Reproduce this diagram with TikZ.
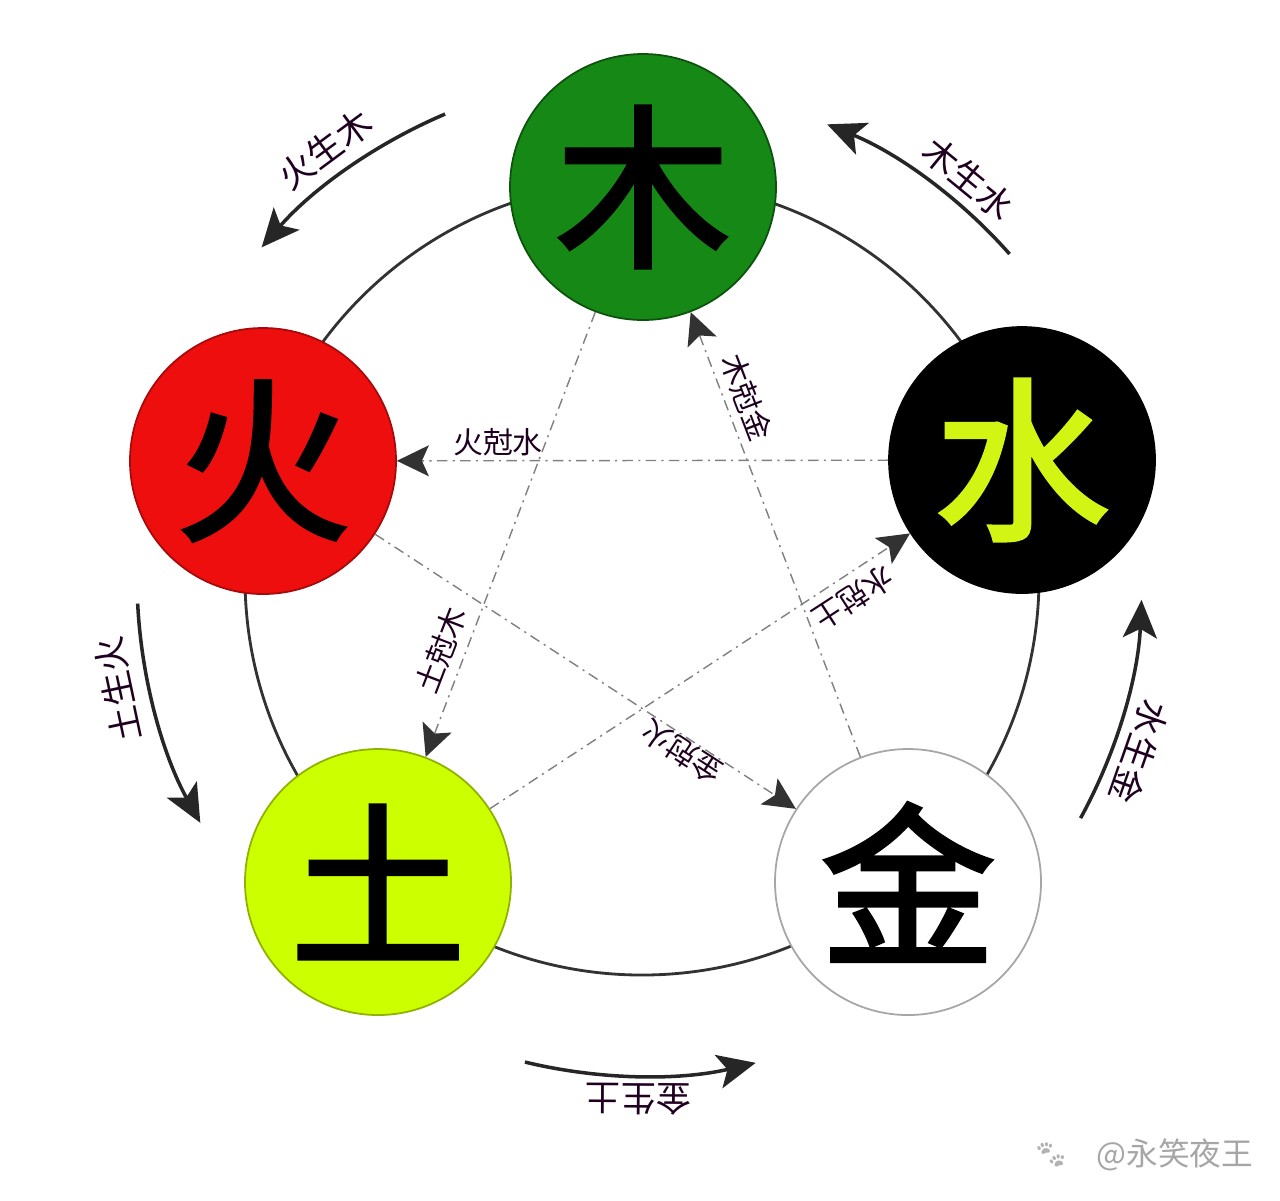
\documentclass[tikz,border=0pt]{standalone}
\usepackage{fontspec}
\usetikzlibrary{arrows.meta,positioning}
\newfontfamily\cjk{Noto Sans CJK SC}
\newfontfamily\cjkbig[FakeBold=2.2]{Noto Sans CJK SC}
\newfontfamily\emo{Noto Emoji}
\definecolor{mugreen}{RGB}{22,136,22}
\definecolor{huored}{RGB}{238,14,14}
\definecolor{tuyellow}{RGB}{204,255,0}
\definecolor{shuiyellow}{RGB}{210,245,20}
\definecolor{inkgray}{RGB}{50,50,50}
\tikzset{
  elem/.style={circle,minimum size=2.66cm,inner sep=0pt,line width=.5pt,
    font=\cjkbig\fontsize{50}{50}\selectfont},
  ring/.style={line width=.8pt,draw=inkgray},
  sheng/.style={line width=1pt,draw=black!85,
    -{Stealth[length=3.8mm,width=3.4mm,inset=.9mm]}},
  ke/.style={line width=.4pt,draw=gray,dash pattern=on 3pt off 1.5pt on .6pt off 1.5pt,
    -{Stealth[length=3.2mm,width=3.1mm,inset=.7mm,color=inkgray]}},
  shenglab/.style={font=\cjk\fontsize{10}{10}\selectfont,text=black!75!violet,inner sep=1pt},
  kelab/.style={font=\cjk\fontsize{8.5}{8.5}\selectfont,text=black!75!violet,inner sep=1pt}
}
\begin{document}
\begin{tikzpicture}
\useasboundingbox (0,0) rectangle (12.8,-12);
\fill[white] (0,0) rectangle (12.8,-12);
\coordinate (o) at (6.42,-5.78); %%
\draw[ring] (o) circle (3.97);
% five elements
\node[elem,fill=mugreen,draw=mugreen!60!black] (mu) at (6.43,-1.87) {木}; %%
\node[elem,fill=black,draw=black,text=shuiyellow] (shui) at (10.22,-4.60) {水}; %%
\node[elem,fill=white,draw=gray!70] (jin) at (9.08,-8.82) {金}; %%
\node[elem,fill=tuyellow,draw=tuyellow!70!black] (tu) at (3.78,-8.82) {土}; %%
\node[elem,fill=huored,draw=huored!70!black] (huo) at (2.63,-4.61) {火}; %%
% inner star
\draw[ke] (shui)--(huo); %%
\draw[ke] (mu)--(tu); %%
\draw[ke] (jin)--(mu); %%
\draw[ke] (tu)--(shui); %%
\draw[ke] (huo)--(jin); %%
\node[kelab] (k1) at (4.98,-4.42) {火尅水}; %%
\node[kelab,rotate=-69] (k2) at (7.47,-3.97) {木尅金}; %%
\node[kelab,rotate=69] (k3) at (4.41,-6.50) {土尅木}; %%
\node[kelab,rotate=213] (k4) at (8.53,-5.98) {水尅土}; %%
\node[kelab,rotate=147] (k5) at (6.82,-7.52) {金尅火}; %%
% outer arrows
\coordinate (s1) at ([shift={(113:5.04)}]o); %%
\coordinate (s2) at ([shift={(41.4:4.90)}]o); %%
\coordinate (s3) at ([shift={(182.9:5.05)}]o); %%
\coordinate (s4) at ([shift={(-28.7:5.0)}]o); %%
\coordinate (s5) at ([shift={(256.4:4.98)}]o); %%
\draw[sheng] (s1) arc[start angle=113,end angle=139,radius=5.04]; %%
\draw[sheng] (s2) arc[start angle=41.4,end angle=67.8,radius=4.90]; %%
\draw[sheng] (s3) arc[start angle=182.9,end angle=209,radius=5.05]; %%
\draw[sheng] (s4) arc[start angle=-28.7,end angle=-2.5,radius=5.0]; %%
\draw[sheng] (s5) arc[start angle=256.4,end angle=283.2,radius=4.98]; %%
\node[shenglab,rotate=36.5] (t1) at ([shift={(126.5:5.33)}]o) {火生木}; %%
\node[shenglab,rotate=-39.3] (t2) at ([shift={(50.7:5.16)}]o) {木生水}; %%
\node[shenglab,rotate=102] (t3) at ([shift={(192:5.36)}]o) {土生火}; %%
\node[shenglab,rotate=-109.3] (t4) at ([shift={(-19.3:5.27)}]o) {水生金}; %%
\node[shenglab,rotate=179.6] (t5) at ([shift={(269.6:5.21)}]o) {金生土}; %%
% mark
\node[font=\cjk\fontsize{9}{9}\selectfont,text=gray!70] (wm) at (11.75,-11.55) {@永笑夜王}; %%
\node[font=\emo\fontsize{8}{8}\selectfont,text=gray!60,left=1pt of wm] (paw) {🐾}; %%
\end{tikzpicture}
\end{document}
